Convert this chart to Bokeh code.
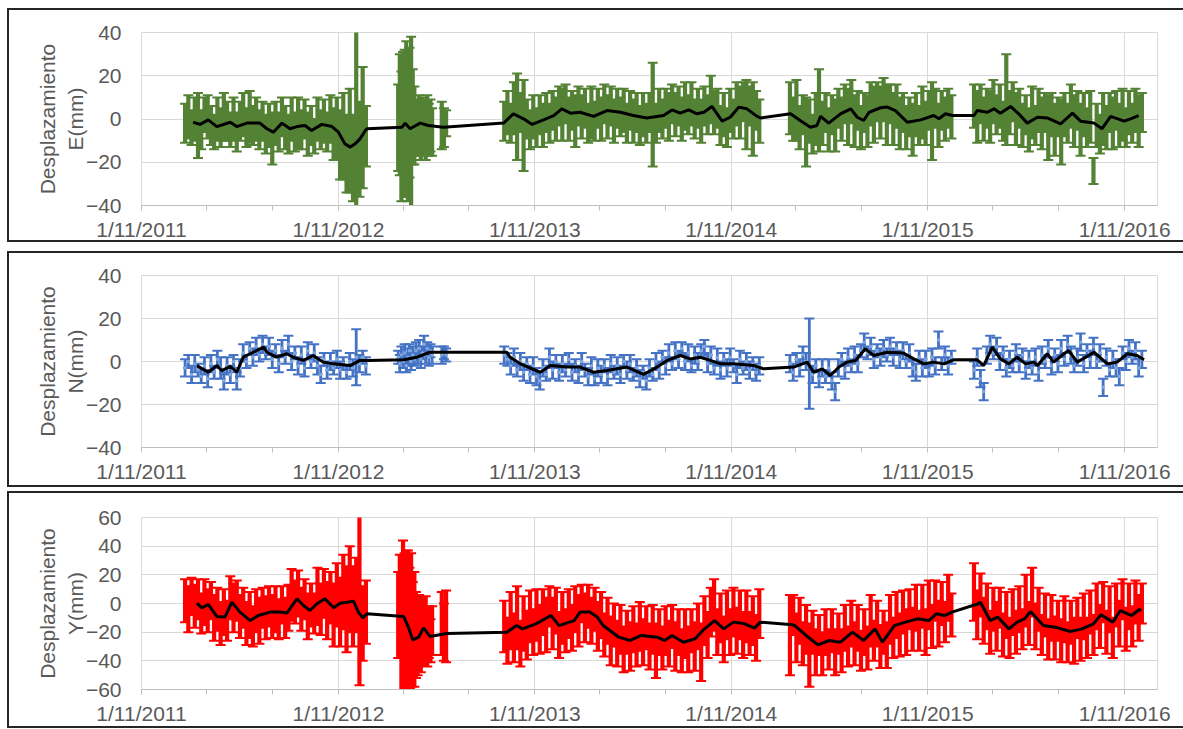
import pandas as pd
from bokeh.plotting import figure
from bokeh.layouts import column
from bokeh.models import Range1d, FixedTicker, ColumnDataSource
from bokeh.embed import file_html
from bokeh.resources import INLINE

# ---------------- data ----------------
BASE_DATE = "2011-11-01"          # first axis tick / left edge of the axis
AXIS_END_DATE = "2017-01-01"      # right edge of the axis
LAST_TICK_DATE = "2016-11-01"

# observation segments: first day (days since BASE_DATE) and sampling step (days)
SEG_START_DAY = [81, 477, 558, 674, 1205, 1547]
SEG_STEP_DAYS = [6, 3, 4, 6, 6, 6]

# (value mm, error mm) per observation, one list per segment
E1 = [(-2, 9), (1, 10), (-4, 8), (0, 10), (-3, 15), (-5, 9), (2, 8), (1, 10), (-3, 9), (-6, 8),
      (0, 10), (-4, 9), (1, 11), (-1, 9), (-5, 8), (0, 10), (-6, 9), (-1, 9), (2, 10), (-4, 9),
      (1, 12), (-3, 9), (0, 10), (-5, 9), (-1, 9), (-7, 9), (-3, 10), (-9, 12), (-2, 10), (-6, 9),
      (1, 9), (-4, 10), (-7, 9), (0, 10), (-6, 9), (-2, 12), (-5, 9), (0, 9), (-7, 10), (-3, 9),
      (-8, 8), (0, 10), (-5, 9), (-1, 10), (-6, 9), (0, 11), (-7, 12), (-4, 14), (-12, 16), (-8, 20),
      (-16, 18), (-10, 24), (-18, 20), (0, 42), (-14, 22), (-4, 28), (-8, 14)]
E2 = [(-4, 20), (2, 28), (-8, 30), (5, 26), (-2, 34), (0, 36), (-6, 32), (3, 30), (-2, 40), (1, 22),
      (-3, 18), (-4, 13), (-5, 12), (0, 11), (-7, 12), (-2, 12), (-4, 13), (-8, 11), (-1, 12), (-5, 12),
      (-3, 12), (-6, 11)]
E3 = [(-3, 11), (-4, 9), (-2, 6)]
E4 = [(-1, 9), (3, 10), (-2, 9), (5, 12), (1, 20), (3, 9), (-3, 21), (0, 9), (-5, 9), (1, 10),
      (-4, 9), (2, 9), (-3, 10), (3, 9), (-2, 9), (4, 9), (0, 10), (6, 9), (2, 12), (7, 9),
      (0, 10), (4, 9), (-1, 12), (6, 9), (1, 10), (5, 9), (-2, 9), (3, 12), (-1, 9), (5, 9),
      (0, 10), (7, 9), (1, 10), (6, 9), (-1, 10), (5, 9), (1, 9), (4, 10), (-2, 9), (4, 9),
      (-1, 10), (3, 9), (-3, 9), (2, 10), (-2, 9), (3, 9), (2, 24), (-2, 9), (4, 10), (0, 9),
      (5, 9), (1, 11), (7, 9), (2, 10), (6, 9), (0, 10), (6, 11), (2, 9), (7, 10), (0, 9),
      (5, 9), (-1, 10), (6, 9), (2, 9), (9, 11), (3, 10), (5, 9), (-3, 9), (2, 10), (-4, 9),
      (4, 10), (0, 9), (7, 10), (3, 12), (8, 9), (2, 16), (6, 9), (0, 17), (4, 9), (-1, 10)]
E5 = [(5, 12), (0, 10), (4, 14), (-4, 10), (2, 9), (-6, 16), (-1, 10), (-7, 9), (0, 12), (4, 19),
      (-2, 10), (3, 9), (-5, 10), (2, 9), (-3, 12), (5, 9), (0, 10), (7, 9), (1, 13), (8, 10),
      (-1, 12), (4, 9), (-4, 10), (3, 9), (-1, 12), (7, 10), (2, 13), (8, 9), (3, 12), (9, 10),
      (2, 14), (7, 9), (0, 12), (6, 10), (-2, 12), (3, 9), (-4, 10), (1, 9), (-5, 12), (2, 10),
      (-3, 9), (3, 12), (-2, 10), (4, 9), (-1, 18), (5, 9), (-3, 10), (4, 9), (0, 10), (5, 9),
      (1, 10)]
E6 = [(6, 10), (1, 12), (7, 9), (0, 10), (5, 9), (1, 12), (8, 10), (2, 9), (6, 10), (-1, 9),
      (9, 21), (3, 10), (8, 9), (0, 12), (5, 9), (-3, 10), (2, 9), (-5, 10), (3, 12), (-3, 9),
      (4, 10), (-2, 12), (3, 9), (-4, 15), (2, 10), (-5, 12), (1, 9), (-6, 15), (2, 10), (-2, 9),
      (6, 10), (-1, 12), (4, 9), (-5, 12), (2, 10), (-4, 9), (1, 12), (-24, 6), (-3, 10), (-7, 9),
      (0, 12), (-4, 10), (3, 9), (-2, 12), (4, 9), (-3, 10), (2, 12), (-4, 9), (3, 10), (-2, 9),
      (4, 10), (-1, 12), (3, 9)]

N1 = [(-3, 4), (0, 3), (-6, 4), (-1, 4), (-4, 3), (-7, 3), (-2, 4), (-8, 4), (-1, 4), (-5, 3),
      (1, 4), (-3, 5), (-9, 4), (-2, 4), (-6, 4), (0, 3), (-9, 4), (-3, 4), (4, 4), (0, 3),
      (6, 3), (2, 4), (7, 4), (3, 3), (8, 4), (4, 3), (7, 4), (1, 4), (5, 3), (-1, 4),
      (6, 4), (2, 3), (8, 4), (0, 4), (4, 3), (-2, 4), (3, 4), (-3, 4), (5, 4), (0, 3),
      (4, 4), (-2, 4), (-6, 4), (1, 3), (-4, 4), (0, 4), (-3, 3), (1, 4), (-4, 4), (-1, 3),
      (-5, 3), (0, 4), (-3, 4), (2, 13), (-1, 4), (2, 3), (-2, 4)]
N2 = [(2, 3), (-1, 4), (3, 4), (0, 3), (4, 4), (-2, 3), (2, 4), (5, 3), (0, 4), (3, 4),
      (1, 3), (5, 4), (2, 3), (6, 4), (1, 4), (4, 3), (8, 4), (3, 4), (6, 3), (2, 4),
      (5, 3), (3, 4)]
N3 = [(3, 4), (4, 3), (3, 3)]
N4 = [(3, 4), (1, 3), (-2, 4), (2, 4), (-4, 3), (0, 4), (-5, 4), (-1, 3), (-6, 4), (-2, 4),
      (-7, 4), (-9, 4), (-3, 4), (-6, 3), (2, 4), (-4, 4), (0, 3), (-5, 4), (-1, 4), (-4, 3),
      (1, 3), (-5, 4), (-2, 3), (-6, 4), (0, 4), (-4, 3), (-7, 4), (-2, 4), (-8, 3), (-3, 4),
      (-6, 4), (-2, 3), (-7, 4), (-1, 4), (-5, 3), (-2, 4), (-6, 4), (0, 3), (-4, 4), (-1, 4),
      (-6, 3), (-3, 4), (-8, 4), (-5, 3), (-9, 4), (-3, 4), (-6, 3), (0, 4), (-4, 4), (2, 3),
      (-2, 4), (4, 4), (-1, 3), (5, 4), (1, 4), (6, 3), (0, 4), (4, 4), (-2, 3), (3, 4),
      (0, 4), (5, 3), (7, 3), (-1, 4), (3, 4), (-3, 3), (2, 4), (-4, 4), (1, 3), (-3, 4),
      (2, 4), (-2, 3), (-6, 4), (1, 4), (-3, 3), (0, 4), (-4, 4), (-1, 3), (-5, 4), (-2, 4)]
N5 = [(-1, 4), (-5, 4), (1, 3), (-3, 4), (3, 4), (0, 4), (-1, 21), (-6, 4), (-2, 3), (-8, 4),
      (-3, 4), (-7, 3), (-3, 4), (-9, 4), (-14, 4), (-3, 4), (1, 3), (-4, 4), (2, 4), (-2, 3),
      (3, 4), (-1, 4), (5, 3), (9, 4), (4, 3), (7, 4), (1, 4), (5, 3), (2, 4), (6, 4),
      (3, 3), (7, 4), (2, 4), (6, 3), (1, 4), (5, 4), (0, 3), (4, 4), (-3, 4), (-5, 4),
      (2, 3), (-3, 4), (1, 4), (-4, 3), (2, 4), (-2, 4), (10, 4), (-1, 3), (3, 4), (-2, 4),
      (2, 3)]
N6 = [(-4, 4), (2, 4), (-8, 4), (-14, 4), (3, 4), (8, 4), (4, 3), (7, 4), (0, 4), (4, 3),
      (-3, 4), (1, 4), (-2, 3), (4, 4), (-1, 4), (3, 3), (-4, 4), (1, 4), (-3, 3), (2, 4),
      (-5, 4), (3, 4), (0, 3), (6, 4), (-2, 4), (3, 3), (-1, 4), (6, 4), (1, 3), (8, 4),
      (3, 4), (-2, 3), (2, 4), (9, 4), (-1, 4), (5, 3), (1, 4), (7, 4), (0, 3), (4, 4),
      (-12, 4), (2, 4), (-4, 3), (1, 4), (-3, 4), (-7, 4), (4, 3), (0, 4), (6, 4), (2, 3),
      (5, 4), (-3, 4), (1, 4)]

Y1 = [(2, 15), (-4, 16), (5, 13), (-2, 15), (3, 14), (-7, 14), (1, 16), (-5, 15), (2, 13), (-10, 16),
      (-4, 15), (-14, 15), (-6, 16), (-12, 14), (4, 15), (-3, 17), (2, 14), (-9, 15), (-3, 14), (-14, 15),
      (-8, 16), (-16, 14), (-5, 15), (-12, 16), (-3, 14), (-10, 15), (-2, 14), (-9, 15), (-4, 16), (-11, 14),
      (-1, 13), (-10, 14), (-3, 16), (6, 18), (1, 15), (7, 16), (-4, 15), (3, 14), (-9, 16), (-1, 15),
      (-7, 14), (5, 20), (-4, 18), (7, 17), (-5, 20), (4, 18), (-8, 22), (6, 22), (-6, 24), (8, 26),
      (-4, 30), (10, 30), (-2, 28), (6, 26), (2, 59), (-14, 26), (-6, 22)]
Y2 = [(-8, 30), (-2, 36), (-20, 42), (4, 40), (-15, 50), (-8, 45), (-12, 49), (-25, 50), (-5, 40), (-30, 45),
      (-18, 40), (-22, 30), (-28, 22), (-14, 20), (-30, 18), (-18, 22), (-25, 18), (-15, 20), (-28, 16), (-20, 18),
      (-26, 15), (-19, 17)]
Y3 = [(-14, 22), (-20, 20), (-16, 25)]
Y4 = [(-16, 18), (-26, 16), (-12, 20), (-24, 17), (-10, 22), (-28, 16), (-14, 19), (-22, 17), (-9, 18), (-20, 16),
      (-8, 18), (-18, 17), (-6, 16), (-15, 19), (-2, 14), (-14, 18), (-5, 16), (-22, 16), (-10, 18), (-19, 15),
      (-7, 17), (-17, 16), (-4, 16), (-12, 18), (0, 13), (-10, 17), (-2, 15), (-12, 16), (-4, 15), (-16, 17),
      (-8, 16), (-22, 15), (-12, 16), (-26, 17), (-15, 15), (-28, 16), (-18, 17), (-32, 16), (-20, 15), (-30, 17),
      (-18, 16), (-29, 15), (-16, 17), (-27, 16), (-17, 15), (-30, 16), (-18, 17), (-33, 19), (-20, 16), (-31, 15),
      (-19, 17), (-28, 16), (-16, 15), (-30, 17), (-20, 16), (-33, 15), (-21, 17), (-32, 16), (-19, 15), (-30, 17),
      (-16, 16), (-34, 20), (-12, 17), (-22, 16), (-6, 17), (-1, 18), (-20, 16), (-10, 17), (-25, 16), (-8, 17),
      (-20, 16), (-6, 17), (-19, 16), (-8, 17), (-22, 16), (-9, 18), (-21, 15), (-12, 17), (-24, 16), (-7, 17)]
Y5 = [(-22, 28), (-8, 14), (-24, 17), (-12, 16), (-28, 15), (-18, 17), (-36, 22), (-20, 15), (-34, 16), (-22, 14),
      (-35, 15), (-20, 16), (-32, 14), (-19, 15), (-34, 16), (-21, 14), (-33, 15), (-17, 16), (-30, 14), (-14, 16),
      (-28, 15), (-17, 16), (-33, 14), (-20, 16), (-31, 15), (-12, 18), (-26, 14), (-14, 16), (-30, 15), (-20, 15),
      (-29, 16), (-11, 17), (-24, 14), (-8, 16), (-22, 15), (-6, 15), (-20, 16), (-4, 14), (-18, 15), (-3, 16),
      (-19, 14), (-2, 15), (-20, 16), (-1, 17), (-16, 15), (2, 14), (-14, 16), (0, 15), (-13, 14), (4, 16),
      (-8, 15)]
Y6 = [(8, 20), (-8, 17), (6, 15), (-12, 16), (-2, 16), (-20, 15), (-4, 15), (-16, 17), (-3, 14), (-22, 15),
      (-8, 16), (-24, 14), (-6, 16), (-20, 15), (-4, 16), (-18, 14), (2, 18), (-14, 15), (8, 17), (-16, 16),
      (-4, 15), (-22, 14), (-8, 15), (-25, 14), (-10, 16), (-24, 15), (-12, 14), (-26, 15), (-11, 16), (-27, 14),
      (-13, 15), (-26, 16), (-10, 14), (-25, 15), (-9, 16), (-24, 14), (-6, 15), (-22, 14), (-2, 16), (-16, 15),
      (1, 14), (-20, 15), (-4, 16), (-24, 14), (-1, 15), (-14, 16), (3, 14), (-18, 15), (-2, 16), (-16, 14),
      (1, 15), (-10, 16), (0, 14)]

# moving-average (black) lines: day since BASE_DATE, value mm
E_LINE_DAY = [96, 109, 124, 140, 165, 177, 196, 220, 233, 245, 261, 276, 289, 304, 316, 335, 354, 366,
              378, 388, 397, 406, 416, 419, 484, 490, 499, 518, 533, 561, 673, 691, 710, 726, 747, 766,
              781, 797, 815, 840, 865, 890, 914, 939, 970, 986, 1001, 1017, 1032, 1045, 1060, 1079,
              1094, 1110, 1125, 1144, 1150, 1206, 1224, 1243, 1255, 1262, 1277, 1299, 1318, 1330, 1342,
              1352, 1373, 1386, 1401, 1423, 1448, 1472, 1482, 1494, 1507, 1547, 1553, 1572, 1584, 1596,
              1615, 1630, 1646, 1665, 1683, 1708, 1730, 1745, 1770, 1785, 1801, 1826, 1838, 1853]
E_LINE_VAL = [-1.5, -2.5, -0.4, -3.5, -1.5, -3.5, -1.9, -1.9, -4.5, -6.1, -1.9, -4.5, -3.5, -3.0, -5.3,
              -2.5, -3.5, -6.1, -11.5, -13.0, -11.5, -9.2, -5.3, -4.5, -3.8, -1.9, -4.5, -1.9, -3.0, -3.8,
              -1.9, 2.4, 0.1, -2.5, -0.4, 1.6, 4.7, 2.7, 3.1, 1.2, 3.9, 3.1, 1.6, 0.5, 1.6, 4.2, 2.7, 4.2,
              2.4, 3.1, 5.8, -1.0, 0.8, 5.5, 4.7, 1.2, 0.5, 2.4, -0.7, -3.8, -3.0, 1.2, -1.9, 2.4, 4.7,
              0.8, -0.7, 3.1, 5.2, 5.5, 3.9, -1.5, -0.4, 1.6, 0.1, 2.4, 1.6, 1.6, 3.9, 3.1, 4.7, 2.7,
              5.8, 2.4, -1.9, 0.8, 0.5, -2.2, 2.7, -1.0, -1.9, -4.5, 1.2, -1.0, 0.1, 1.6]

N_LINE_DAY = [103, 124, 140, 149, 165, 177, 189, 202, 227, 233, 251, 270, 282, 301, 319, 338, 357, 388,
              406, 419, 487, 512, 536, 567, 679, 685, 704, 741, 760, 791, 815, 840, 865, 902, 933, 958,
              977, 1001, 1020, 1038, 1057, 1076, 1100, 1138, 1156, 1212, 1237, 1249, 1265, 1280, 1296,
              1311, 1327, 1345, 1361, 1386, 1416, 1435, 1454, 1472, 1491, 1509, 1553, 1565, 1581, 1596,
              1612, 1627, 1643, 1658, 1665, 1683, 1695, 1714, 1723, 1739, 1770, 1795, 1813, 1832, 1850, 1863]
N_LINE_VAL = [-1.9, -5.0, -1.9, -4.2, -2.3, -5.0, 2.0, 3.6, 6.7, 4.3, 2.0, 3.6, 2.0, 0.5, 2.8, -0.3, -1.1,
              -1.9, 0.5, 0.5, 0.8, 2.0, 4.3, 4.3, 4.3, 2.0, -1.1, -5.0, -1.9, -2.6, -2.6, -5.0, -4.2, -2.6,
              -6.0, -2.6, 0.5, 2.8, 1.2, 2.0, 0.5, -1.1, -1.1, -1.9, -3.4, -2.6, -0.3, -5.0, -3.4, -6.5,
              -2.6, -0.3, 0.5, 5.9, 2.8, 4.3, 3.9, 1.2, -1.1, -0.3, -1.1, 0.8, 0.8, -1.9, 6.7, 1.2, -1.1,
              2.0, -1.1, -0.3, -1.9, 3.6, -0.3, 3.6, 5.1, -0.3, 4.3, -1.1, -0.3, 3.6, 2.8, 0.8]

Y_LINE_DAY = [103, 112, 124, 140, 155, 168, 183, 202, 217, 239, 258, 270, 289, 301, 313, 326, 341, 357,
              369, 382, 394, 403, 411, 419, 487, 496, 504, 515, 524, 536, 567, 679, 697, 708, 733, 761,
              776, 804, 815, 833, 847, 858, 887, 908, 929, 958, 972, 986, 1007, 1029, 1043, 1065, 1082,
              1100, 1121, 1139, 1150, 1210, 1214, 1235, 1257, 1278, 1299, 1321, 1342, 1363, 1377, 1399,
              1420, 1442, 1463, 1477, 1492, 1506, 1555, 1559, 1577, 1591, 1612, 1627, 1641, 1652, 1676,
              1698, 1726, 1748, 1769, 1783, 1805, 1819, 1840, 1854, 1858]
Y_LINE_VAL = [0.2, -3.0, -0.7, -9.0, -9.5, 0.9, -6.0, -11.9, -8.4, -6.0, -6.0, -6.7, 3.3, -1.4, -4.9,
              -0.2, 3.3, -3.0, 0.2, 0.9, 1.6, -6.0, -10.0, -7.2, -9.0, -16.5, -25.3, -23.5, -17.0, -23.0,
              -21.0, -20.0, -15.4, -17.7, -14.2, -8.4, -15.4, -11.9, -6.0, -6.0, -9.5, -15.4, -23.5, -25.8,
              -22.3, -23.5, -25.8, -22.3, -27.0, -24.6, -18.8, -11.9, -17.7, -13.0, -14.2, -17.2, -13.0,
              -14.9, -15.4, -22.3, -28.8, -25.8, -27.0, -20.0, -25.8, -17.7, -27.0, -15.4, -13.0, -10.7,
              -11.9, -7.2, -8.4, -6.0, -0.2, 0.9, -11.9, -9.5, -17.7, -13.0, -10.7, -5.6, -15.4, -16.5,
              -19.5, -17.7, -14.2, -7.9, -13.0, -4.9, -8.4, -4.2, -5.0]

Y_TICKS_EN = [-40, -20, 0, 20, 40]
Y_TICKS_UP = [-60, -40, -20, 0, 20, 40, 60]

# ---------------- helpers ----------------
MS_PER_DAY = 86400000
BASE_MS = pd.Timestamp(BASE_DATE).value // 10**6
END_MS = pd.Timestamp(AXIS_END_DATE).value // 10**6


def day_ms(d):
    return BASE_MS + d * MS_PER_DAY


def series_source(segments):
    x, y, lo, hi = [], [], [], []
    for start, step, seg in zip(SEG_START_DAY, SEG_STEP_DAYS, segments):
        for i, (v, e) in enumerate(seg):
            x.append(day_ms(start + i * step))
            y.append(v)
            lo.append(v - e)
            hi.append(v + e)
    return ColumnDataSource(dict(x=x, y=y, lo=lo, hi=hi))


tick_dates = pd.date_range(BASE_DATE, LAST_TICK_DATE, freq="4MS")
tick_ms = [int(d.value // 10**6) for d in tick_dates]
tick_labels = {float(t): (f"{d.day}/{d.month}/{d.year}" if d.month == 11 else "")
               for t, d in zip(tick_ms, tick_dates)}
year_ms = [t for t, d in zip(tick_ms, tick_dates) if d.month == 11]

FONT = "Liberation Sans"
TXT = "#595959"
GRID = "#D9D9D9"
BORDER = "2px solid #262626"


def make_panel(label, ymin, ymax, yticks, height, top, bottom, segs, line_day, line_val,
               color, bar_w, mark_color=None):
    p = figure(width=1176, height=height, output_backend="svg", toolbar_location=None,
               x_range=Range1d(BASE_MS, END_MS), y_range=Range1d(ymin, ymax),
               min_border_left=132, min_border_right=28, min_border_top=top,
               min_border_bottom=bottom)
    p.styles = {"border-top": BORDER, "border-left": BORDER, "border-bottom": BORDER,
                "box-sizing": "border-box"}
    p.outline_line_color = GRID
    p.background_fill_color = "white"
    p.border_fill_color = "white"

    p.xaxis.ticker = FixedTicker(ticks=tick_ms)
    p.xaxis.major_label_overrides = tick_labels
    p.xaxis.major_tick_out = 5
    p.xaxis.major_tick_in = 0
    p.xaxis.minor_tick_line_color = None
    p.xaxis.major_tick_line_color = "#BFBFBF"
    p.xaxis.axis_line_color = "#BFBFBF"
    p.xaxis.major_label_standoff = 7
    p.xgrid.ticker = FixedTicker(ticks=year_ms)
    p.xgrid.grid_line_color = GRID

    p.yaxis.ticker = FixedTicker(ticks=yticks)
    p.yaxis.major_tick_line_color = None
    p.yaxis.minor_tick_line_color = None
    p.yaxis.major_tick_out = 0
    p.yaxis.axis_line_color = None
    p.yaxis.major_label_standoff = 20
    p.ygrid.grid_line_color = GRID
    p.yaxis.axis_label = label
    p.yaxis.axis_label_standoff = -4
    p.yaxis.axis_label_text_font = FONT
    p.yaxis.axis_label_text_font_size = "21px"
    p.yaxis.axis_label_text_font_style = "normal"
    p.yaxis.axis_label_text_color = TXT
    for ax in (p.xaxis, p.yaxis):
        ax.major_label_text_font = FONT
        ax.major_label_text_font_size = "21px"
        ax.major_label_text_color = TXT

    src = series_source(segs)
    p.segment(x0="x", y0="lo", x1="x", y1="hi", source=src, line_color=color, line_width=bar_w)
    p.scatter(x="x", y="hi", source=src, marker="dash", size=10, line_color=color, line_width=2)
    p.scatter(x="x", y="lo", source=src, marker="dash", size=10, line_color=color, line_width=2)
    if mark_color:
        p.scatter(x="x", y="y", source=src, marker="circle", size=3.5,
                  fill_color=mark_color, line_color=None)
    p.line([day_ms(d) for d in line_day], line_val, line_color="black", line_width=3)
    return p


p1 = make_panel("Desplazamiento\nE(mm)", -40, 40, Y_TICKS_EN, 234, 22, 39,
                [E1, E2, E3, E4, E5, E6], E_LINE_DAY, E_LINE_VAL, "#548235", 4.2)
p2 = make_panel("Desplazamiento\nN(mm)", -40, 40, Y_TICKS_EN, 236, 22, 42,
                [N1, N2, N3, N4, N5, N6], N_LINE_DAY, N_LINE_VAL, "#4472C4", 2.8, "#7DA7DE")
p3 = make_panel("Desplazamiento\nY(mm)", -60, 60, Y_TICKS_UP, 237, 24, 41,
                [Y1, Y2, Y3, Y4, Y5, Y6], Y_LINE_DAY, Y_LINE_VAL, "#FF0000", 4.2)
p1.margin = (8, 0, 0, 7)
p2.margin = (9, 0, 0, 7)
p3.margin = (4, 0, 0, 7)

layout = column(p1, p2, p3, spacing=0)
open("out.html", "w").write(file_html(layout, INLINE))
